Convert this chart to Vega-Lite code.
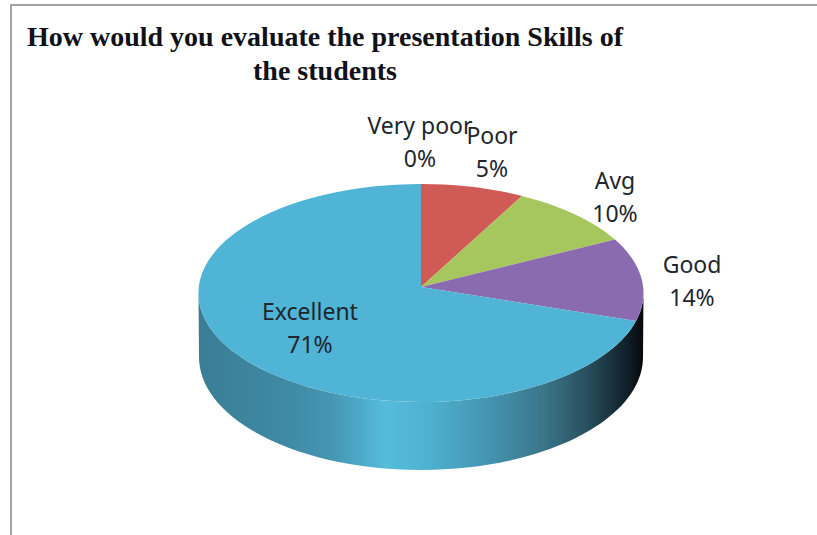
{
"$schema":"https://vega.github.io/schema/vega-lite/v6.json",
"width":810,"height":540,
"autosize":"none",
"padding":{"left":11,"top":5,"right":0,"bottom":0},
"background":"white",
"config":{"view":{"stroke":"#a3a3a3","strokeWidth":2}},
"title":{"text":["How would you evaluate the presentation Skills of","the students"],"font":"Liberation Serif","fontWeight":"bold","fontSize":28,"color":"#111118","lineHeight":34,"anchor":"middle","frame":"group","dx":-91,"dy":81,"offset":0,"baseline":"top"},
"data":{"values":[
{"slice":"Very poor","pct":0},
{"slice":"Poor","pct":5},
{"slice":"Avg","pct":10},
{"slice":"Good","pct":14},
{"slice":"Excellent","pct":71}
]},
"layer":[
{"transform":[{"filter":"datum.slice === 'Excellent'"}],
"mark":{"type":"point","filled":true,"opacity":1,"size":4,"fill":{"gradient":"linear","x1":0,"y1":0,"x2":1,"y2":0,"stops":[{"offset":0,"color":"#3a7d95"},{"offset":0.2,"color":"#3f8aa5"},{"offset":0.3,"color":"#4596b2"},{"offset":0.42,"color":"#55bcdc"},{"offset":0.52,"color":"#4fb0d0"},{"offset":0.66,"color":"#4393ae"},{"offset":0.78,"color":"#3a7487"},{"offset":0.88,"color":"#274c5b"},{"offset":0.96,"color":"#10212a"},{"offset":1,"color":"#07090d"}]}},
"encoding":{
"x":{"field":"pct","type":"quantitative","axis":null,"scale":{"domain":[0,71],"range":[410,410]}},
"y":{"field":"pct","type":"quantitative","axis":null,"scale":{"domain":[0,71],"range":[282,282]}},
"shape":{"field":"slice","type":"nominal","legend":null,"scale":{"domain":["Excellent"],"range":["M-222.5 6 L-222 70 A222 113 0 0 0 222 70 L222.5 6 A222.5 109 0 0 1 -222.5 6 Z"]}}
}},
{"mark":{"type":"point","filled":true,"opacity":1,"size":4},
"encoding":{
"x":{"field":"pct","type":"quantitative","axis":null,"scale":{"domain":[0,71],"range":[410,410]}},
"y":{"field":"pct","type":"quantitative","axis":null,"scale":{"domain":[0,71],"range":[282,282]}},
"color":{"field":"slice","type":"nominal","legend":null,"scale":{"domain":["Very poor","Poor","Avg","Good","Excellent"],"range":["#4f81bd","#cf5a56","#a6c65e","#8a6bb0","#4fb4d6"]}},
"shape":{"field":"slice","type":"nominal","legend":null,"scale":{"domain":["Very poor","Poor","Avg","Good","Excellent"],"range":["M0 0 L0 -103 Z","M0 0 L0 -103 A222.5 109 0 0 1 101 -91.1 Z","M0 0 L101 -91.1 A222.5 109 0 0 1 194 -47.4 Z","M0 0 L194 -47.4 A222.5 109 0 0 1 215 34 Z","M0 0 L215 34 A222.5 109 0 1 1 0 -103 Z"]}}
}},
{"transform":[{"calculate":"datum.slice + '\\n' + datum.pct + '%'","as":"label"}],
"mark":{"type":"text","font":"Noto Sans","fontSize":23,"lineHeight":33,"lineBreak":"\n","align":"center","baseline":"middle","color":"#20262c"},
"encoding":{
"x":{"field":"pct","type":"quantitative","axis":null,"scale":{"domain":[0,5,10,14,71],"range":[409,481,604,681,299]}},
"y":{"field":"pct","type":"quantitative","axis":null,"scale":{"domain":[0,5,10,14,71],"range":[122,131.5,177,261,308]}},
"text":{"field":"label","type":"nominal"}
}}
],
"resolve":{"scale":{"x":"independent","y":"independent","shape":"independent","color":"independent"}}
}
